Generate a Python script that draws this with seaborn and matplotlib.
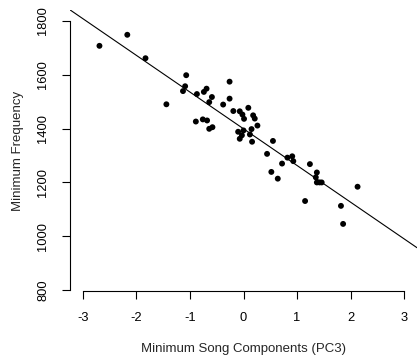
import numpy as np
import pandas as pd
import matplotlib
matplotlib.use("Agg")
import matplotlib.pyplot as plt
import seaborn as sns

# Minimum song components (PC3 score) for each bird
pc3 = [-2.69, -2.17, -1.83, -1.44, -1.07, -1.09, -1.13, -0.87, -0.74, -0.69,
       -0.59, -0.64, -0.89, -0.76, -0.68, -0.64, -0.58, -0.26, -0.26, -0.38,
       -0.19, -0.07, -0.02, 0.01, 0.09, 0.18, 0.21, 0.26, 0.15, -0.10,
       0.00, 0.12, -0.03, -0.07, 0.16, 0.55, 0.44, 0.72, 0.82, 0.91,
       0.93, 0.52, 0.64, 1.24, 1.37, 1.35, 1.37, 1.42, 1.46, 1.15,
       1.82, 1.86, 2.13]
# Minimum frequency (Hz) for each bird
min_freq = [1707, 1748, 1661, 1490, 1598, 1557, 1539, 1528, 1536, 1548,
            1517, 1498, 1426, 1434, 1430, 1399, 1405, 1574, 1511, 1489,
            1465, 1464, 1452, 1436, 1477, 1449, 1437, 1411, 1398, 1388,
            1393, 1378, 1375, 1362, 1351, 1354, 1306, 1270, 1292, 1297,
            1279, 1239, 1214, 1268, 1237, 1219, 1200, 1200, 1200, 1131,
            1113, 1046, 1184]

x_ticks = [-3, -2, -1, 0, 1, 2, 3]
y_ticks = [800, 1000, 1200, 1400, 1600, 1800]
x_label = "Minimum Song Components (PC3)"
y_label = "Minimum Frequency"

df = pd.DataFrame({"pc3": pc3, "min_freq": min_freq})

sns.set_style("ticks")
plt.rcParams["font.family"] = ["Liberation Sans", "DejaVu Sans"]

fig = plt.figure(figsize=(4.17, 3.60), dpi=100)
ax = fig.add_axes([70 / 417, 69 / 360, 347 / 417, 281 / 360])

ax.set_xlim(-3.24, 3.24)
ax.set_ylim(797, 1840)

sns.scatterplot(data=df, x="pc3", y="min_freq", ax=ax, color="black",
                s=18, linewidth=0, edgecolor="none", zorder=3)
sns.regplot(data=df, x="pc3", y="min_freq", ax=ax, scatter=False, ci=None,
            truncate=False, line_kws={"color": "black", "linewidth": 0.8})

ax.set_xlim(-3.24, 3.24)
ax.set_ylim(797, 1840)

ax.set_xticks(x_ticks)
ax.set_xticklabels([str(t) for t in x_ticks])
ax.set_yticks(y_ticks)
ax.set_yticklabels([str(t) for t in y_ticks], rotation=90, va="center")

for side in ("top", "right"):
    ax.spines[side].set_visible(False)
ax.spines["left"].set_bounds(800, 1800)
ax.spines["bottom"].set_bounds(-3, 3)
for side in ("left", "bottom"):
    ax.spines[side].set_linewidth(0.8)
    ax.spines[side].set_color("black")

ax.tick_params(axis="both", length=5.8, width=0.8, color="black",
               labelsize=9.3, labelcolor="black", pad=9)

ax.set_xlabel(x_label, fontsize=9.5, labelpad=14)
ax.set_ylabel(y_label, fontsize=9.5, labelpad=10)

fig.savefig("out.png", dpi=100)
